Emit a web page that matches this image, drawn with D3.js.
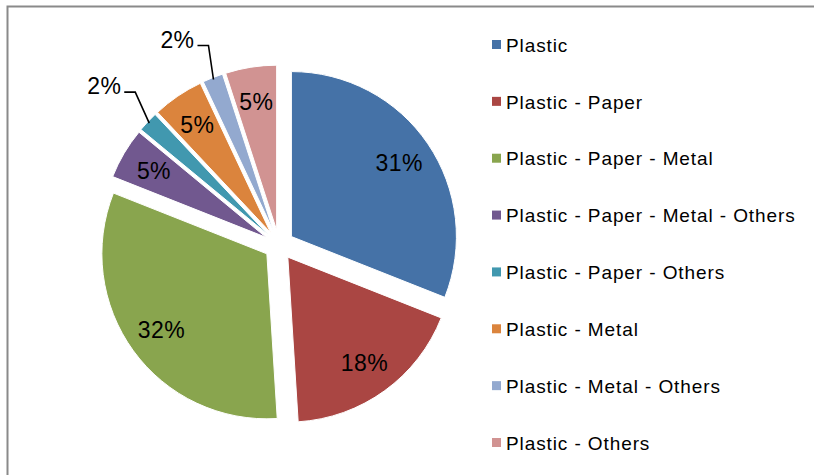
<!DOCTYPE html>
<html>
<head>
<meta charset="utf-8">
<script src="https://cdn.jsdelivr.net/npm/d3@7"></script>
<style>
  html, body { margin: 0; padding: 0; background: #fff; overflow: hidden; }
  svg { display: block; }
  text { font-family: "Liberation Sans", Arial, sans-serif; fill: #000; }
</style>
</head>
<body>
<svg id="chart" width="814" height="475"></svg>
<script>
// Packaging material combinations and their shares (%)
const categories = [
  "Plastic",
  "Plastic - Paper",
  "Plastic - Paper - Metal",
  "Plastic - Paper - Metal - Others",
  "Plastic - Paper - Others",
  "Plastic - Metal",
  "Plastic - Metal - Others",
  "Plastic - Others"
];
const shares = [31, 18, 32, 5, 2, 5, 2, 5];
const colors = ["#4572A7", "#AA4643", "#89A54E", "#71588F", "#4198AF", "#DB843D", "#93A9CF", "#D19392"];

const svg = d3.select("#chart");

// chart frame: only its top and left edges fall inside the view
svg.append("path")
  .attr("d", "M7.5,480V6.5H820")
  .attr("fill", "none").attr("stroke", "#8a8a8a").attr("stroke-width", 2);

const cx = 279, cy = 245, R = 165, explode = 15;

const pie = d3.pie().value(d => d.v).sort(null);
const arcs = pie(categories.map((c, i) => ({ c, v: shares[i], col: colors[i] })));
const arc = d3.arc().innerRadius(0).outerRadius(R);

const g = svg.append("g").attr("transform", `translate(${cx},${cy})`);

function offset(d, dist) {
  const a = (d.startAngle + d.endAngle) / 2;
  return [Math.sin(a) * dist, -Math.cos(a) * dist];
}

const slices = g.selectAll("g.slice").data(arcs).enter().append("g")
  .attr("class", "slice")
  .attr("transform", d => { const o = offset(d, explode); return `translate(${o[0]},${o[1]})`; });

slices.append("path")
  .attr("d", arc)
  .attr("fill", d => d.data.col)
  .attr("stroke", "#fff").attr("stroke-width", 1);

// inside labels for the larger slices
slices.filter(d => d.data.v >= 5).append("text")
  .attr("transform", d => { const o = offset(d, R * 0.79); return `translate(${o[0]},${o[1]})`; })
  .attr("text-anchor", "middle")
  .attr("dy", "0.35em")
  .style("font-size", "23px")
  .style("letter-spacing", "0.4px")
  .text(d => d.data.v + "%");

// outside labels with leader lines for the thin slices
const leaderLayout = {
  "Plastic - Paper - Others": { elbow: [-14, -31], run: 11 },
  "Plastic - Metal - Others": { elbow: [-5, -34], run: 11 }
};
slices.filter(d => d.data.v < 5).each(function(d) {
  const sel = d3.select(this);
  const L = leaderLayout[d.data.c];
  const p0 = offset(d, R - 2);
  const p1 = [p0[0] + L.elbow[0], p0[1] + L.elbow[1]];
  const p2 = [p1[0] - L.run, p1[1]];
  sel.append("path")
    .attr("d", d3.line()([p0, p1, p2]))
    .attr("fill", "none").attr("stroke", "#000").attr("stroke-width", 1.6);
  sel.append("text")
    .attr("x", p2[0] - 3).attr("y", p2[1] - 6)
    .attr("text-anchor", "end")
    .attr("dy", "0.35em")
    .style("font-size", "23px")
    .style("letter-spacing", "0.4px")
    .text(d.data.v + "%");
});

// legend
const legendY = d3.scalePoint().domain(categories).range([45, 443]);
const legend = svg.append("g");
const items = legend.selectAll("g").data(categories).enter().append("g")
  .attr("transform", c => `translate(492,${legendY(c)})`);
items.append("rect")
  .attr("x", 0).attr("y", -5).attr("width", 9).attr("height", 9)
  .attr("fill", (c, i) => colors[i]);
items.append("text")
  .attr("x", 14).attr("dy", "0.35em")
  .style("font-size", "19px")
  .style("letter-spacing", "0.9px")
  .text(c => c);
</script>
</body>
</html>
